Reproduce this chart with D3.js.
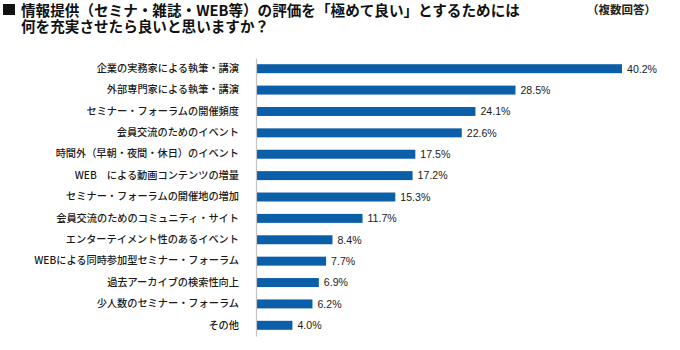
<!DOCTYPE html>
<html>
<head>
<meta charset="utf-8">
<script src="https://cdn.jsdelivr.net/npm/d3@7"></script>
<style>
  html, body { margin: 0; padding: 0; background: #fff; }
  svg { display: block; }
</style>
</head>
<body>
<svg id="chart" width="680" height="350"></svg>
<script>
const categories = [
  "企業の実務家による執筆・講演",
  "外部専門家による執筆・講演",
  "セミナー・フォーラムの開催頻度",
  "会員交流のためのイベント",
  "時間外（早朝・夜間・休日）のイベント",
  "WEB　による動画コンテンツの増量",
  "セミナー・フォーラムの開催地の増加",
  "会員交流のためのコミュニティ・サイト",
  "エンターテイメント性のあるイベント",
  "WEBによる同時参加型セミナー・フォーラム",
  "過去アーカイブの検索性向上",
  "少人数のセミナー・フォーラム",
  "その他"
];
const values = [40.2, 28.5, 24.1, 22.6, 17.5, 17.2, 15.3, 11.7, 8.4, 7.7, 6.9, 6.2, 4.0];
const titleLines = [
  "情報提供（セミナ・雑誌・WEB等）の評価を「極めて良い」とするためには",
  "何を充実させたら良いと思いますか？"
];
const noteText = "（複数回答）";

const svg = d3.select("#chart");
const jp = "'Noto Sans CJK JP', 'Noto Sans', sans-serif";

const x = d3.scaleLinear().domain([0, 40.2]).range([256, 622]);
const y = d3.scaleBand().domain(categories).range([58, 336])
  .paddingInner(0.58).paddingOuter(0.29);

// Title (one text element, two lines)
svg.append("rect").attr("x", 3).attr("y", 4).attr("width", 12).attr("height", 11).attr("fill", "#111");
const title = svg.append("text")
  .attr("font-family", jp).attr("font-weight", "bold").attr("font-size", 14.6)
  .attr("fill", "#111");
title.selectAll("tspan").data(titleLines).join("tspan")
  .attr("x", 21)
  .attr("y", (d, i) => 16 + i * 15.5)
  .text(d => d);
svg.append("text").attr("x", 656).attr("y", 14)
  .attr("text-anchor", "end")
  .attr("font-family", jp).attr("font-weight", "bold").attr("font-size", 11.5)
  .attr("fill", "#222").text(noteText);

// Bars
svg.append("g").selectAll("rect").data(values).join("rect")
  .attr("x", x(0))
  .attr("y", (d, i) => y(categories[i]))
  .attr("width", d => x(d) - x(0))
  .attr("height", y.bandwidth())
  .attr("fill", "#0b5ea8");

// Axis line
const yAxis = d3.axisLeft(y).tickSize(0).tickPadding(17);
const ga = svg.append("g").attr("transform", `translate(${x(0)},0)`).call(yAxis);
ga.select(".domain").attr("stroke", "#c4c4c4").attr("stroke-width", 1.2);
ga.selectAll(".tick text")
  .attr("font-family", jp).attr("font-size", 10.2).attr("font-weight", 500).attr("fill", "#1a1a1a");

// Value labels
svg.append("g").selectAll("text").data(values).join("text")
  .attr("x", d => x(d) + 5)
  .attr("y", (d, i) => y(categories[i]) + y.bandwidth() / 2)
  .attr("dy", "0.36em")
  .attr("font-family", "'Liberation Sans', Arial, sans-serif")
  .attr("font-size", 10.6).attr("fill", "#1a1a1a")
  .text(d => d.toFixed(1) + "%");
</script>
</body>
</html>
